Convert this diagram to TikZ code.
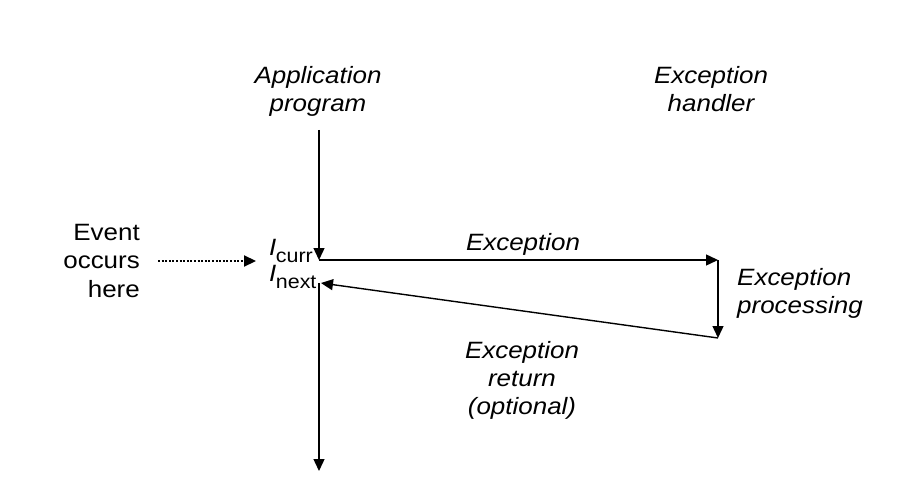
\documentclass[tikz,border=0pt]{standalone}
\usepackage{fontspec}
\setmainfont[FakeStretch=1.1]{Liberation Sans}
\usetikzlibrary{arrows.meta}
\begin{document}
\begin{tikzpicture}[x=1pt,y=-1pt,
  lbl/.style={font=\fontsize{23.6}{28}\selectfont\itshape, inner sep=0pt, align=center},
  plain/.style={font=\fontsize{23.6}{28.5}\selectfont, inner sep=0pt, align=right},
  ilbl/.style={font=\fontsize{23.6}{28}\selectfont, inner sep=0pt},
  flow/.style={line width=1.4pt, -{Triangle[length=12pt,width=11pt]}},
  dotflow/.style={line width=2.2pt, dash pattern=on 2pt off 1.6pt, -{Triangle[length=12pt,width=11pt]}}]
\useasboundingbox (0,0) rectangle (924,492);
% coordinates
\coordinate (top) at (319,130);
\coordinate (cur) at (319,260);
\coordinate (hdl) at (718,260);
\coordinate (hdlend) at (718,338);
\coordinate (nxt) at (321,283);
\coordinate (nxtline) at (319,283);
\coordinate (bot) at (319,471);
\coordinate (evs) at (158,261);
\coordinate (eve) at (256,261);
% labels
\node[lbl, anchor=base] (app) at (318,112) {Application\\program};
\node[lbl, anchor=base] (hand) at (711,112) {Exception\\handler};
\node[plain, anchor=base east] (event) at (140,297) {Event\\occurs\\here};
\node[ilbl, anchor=base west] (icurr) at (269,255) {\textit{I}\kern-0.5pt\raisebox{-7pt}{\fontsize{19.5}{19.5}\selectfont curr}};
\node[ilbl, anchor=base west] (inext) at (269,281) {\textit{I}\kern-0.5pt\raisebox{-7pt}{\fontsize{19.5}{19.5}\selectfont next}};
\node[lbl, anchor=base] (exc) at (523,250) {Exception};
\node[lbl, anchor=base west, align=left] (proc) at (737,313) {Exception\\processing};
\node[lbl, anchor=base] (ret) at (522,414) {Exception\\return\\(optional)};
% connectors
\draw[flow] (top) -- (cur);
\draw[flow] (cur) -- (hdl);
\draw[flow] (hdl) -- (hdlend);
\draw[flow] (hdlend) -- (nxt);
\draw[flow] (nxtline) -- (bot);
\draw[dotflow] (evs) -- (eve);
\end{tikzpicture}
\end{document}
